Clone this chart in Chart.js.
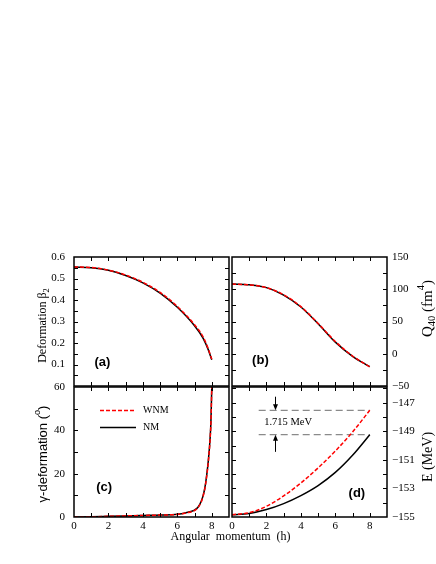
<!DOCTYPE html>
<html>
<head>
<meta charset="utf-8">
<script src="https://cdn.jsdelivr.net/npm/chart.js@4.4.1/dist/chart.umd.min.js"></script>
<style>
  html, body { margin: 0; padding: 0; background: #fff; }
  #wrap { position: relative; width: 436px; height: 564px; }
  #wrap canvas { position: absolute; left: 0; top: 0; }
</style>
</head>
<body>
<div id="wrap">
  <canvas id="panelA" width="436" height="564"></canvas>
  <canvas id="panelB" width="436" height="564"></canvas>
  <canvas id="panelC" width="436" height="564"></canvas>
  <canvas id="panelD" width="436" height="564"></canvas>
</div>
<script>
// angular momentum grid for each panel
const betaMomentum = [0, 1, 2, 3, 4, 5, 6, 7, 7.5, 7.8, 8];
const beta2WNM = [0.554, 0.551, 0.539, 0.516, 0.482, 0.435, 0.370, 0.285, 0.228, 0.172, 0.125];
const beta2NM = [0.553, 0.550, 0.538, 0.514, 0.480, 0.432, 0.366, 0.280, 0.222, 0.168, 0.122];

const q40Momentum = [0, 1, 2, 3, 4, 5, 6, 7, 8];
const q40WNM = [108, 106.8, 102.5, 91.5, 73, 47, 19, -3.5, -20.5];
const q40NM = [108, 106.8, 102.5, 91, 72.5, 46.5, 18, -4, -20];

const gammaMomentum = [0, 1, 2, 3, 4, 5, 6, 6.5, 7, 7.2, 7.4, 7.5, 7.6, 7.7, 7.8, 7.9, 7.95, 8];
const gammaWNM = [0, 0.1, 0.3, 0.5, 0.7, 0.9, 1.2, 1.9, 3.0, 4.3, 7.2, 9.7, 13.2, 18.5, 25.5, 35.5, 43.5, 60];
const gammaNM = [0, 0.1, 0.3, 0.5, 0.7, 0.9, 1.3, 2.0, 3.2, 4.5, 7.5, 10, 13.5, 19, 26, 36, 44, 60];

const energyMomentum = [0, 1, 2, 3, 4, 5, 6, 7, 8];
const energyWNM = [-154.84, -154.70, -154.25, -153.52, -152.62, -151.56, -150.38, -149.05, -147.53];
const energyNM = [-154.84, -154.75, -154.48, -154.06, -153.50, -152.80, -151.88, -150.68, -149.24];

// 1.715 MeV gap marker in panel (d)
const gapLevels = [-147.53, -149.24];
const gapMomentum = [1.55, 8];
const arrowMomentum = 2.5;
const arrowTails = [-146.58, -150.44];
const gapText = "1.715 MeV";
const gapTextAt = [1.87, -148.35];

const momentumTicks = [0, 2, 4, 6, 8];
const betaTicks = [0.1, 0.2, 0.3, 0.4, 0.5, 0.6];
const q40Ticks = [-50, 0, 50, 100, 150];
const gammaTicks = [0, 20, 40, 60];
const energyTicks = [-155, -153, -151, -149, -147];

const SERIF = '"Liberation Serif", "Times New Roman", serif';
const SANS = '"Liberation Sans", Arial, sans-serif';
const RED = "#ff0000";

const pts = (xs, ys) => xs.map((x, i) => ({ x: x, y: ys[i] }));
const minus = (v) => String(v).replace("-", "\u2212");

// text with sub/superscripts, centred on (cx, cy)
function richText(ctx, segs, cx, cy, size, family, rotate) {
  ctx.save();
  ctx.translate(cx, cy);
  if (rotate) ctx.rotate(-Math.PI / 2);
  ctx.fillStyle = "#000";
  ctx.textBaseline = "middle";
  ctx.textAlign = "left";
  let w = 0;
  segs.forEach((s) => {
    const sz = s.sub || s.sup ? size * 0.7 : size;
    ctx.font = sz + "px " + family;
    s.w = ctx.measureText(s.t).width;
    w += s.w;
  });
  let x = -w / 2;
  segs.forEach((s) => {
    const sz = s.sub || s.sup ? size * 0.7 : size;
    ctx.font = sz + "px " + family;
    const dy = s.sub ? size * 0.3 : s.sup ? -size * 0.45 : 0;
    ctx.fillText(s.t, x, dy);
    x += s.w;
  });
  ctx.restore();
}

// frame with inward ticks on all four sides, plus titles and panel letter
const framePlugin = {
  id: "frame",
  afterDraw(chart, args, opts) {
    const { ctx, chartArea: a, scales } = chart;
    const sx = scales.x;
    const sy = scales.y;
    ctx.save();
    ctx.strokeStyle = "#000";
    ctx.lineWidth = 1;
    ctx.beginPath();
    const nx = Math.round((sx.max - sx.min) / opts.xStep);
    for (let i = 1; i < nx; i++) {
      const px = Math.round(sx.getPixelForValue(sx.min + i * opts.xStep)) + 0.5;
      ctx.moveTo(px, a.bottom);
      ctx.lineTo(px, a.bottom - 4);
      ctx.moveTo(px, a.top);
      ctx.lineTo(px, a.top + 4);
    }
    for (let v = opts.yFrom; v <= sy.max + 1e-9; v += opts.yStep) {
      const py = Math.round(sy.getPixelForValue(v)) + 0.5;
      if (py < a.top + 1 || py > a.bottom - 1) continue;
      ctx.moveTo(a.left, py);
      ctx.lineTo(a.left + 4, py);
      ctx.moveTo(a.right, py);
      ctx.lineTo(a.right - 4, py);
    }
    ctx.stroke();
    ctx.lineWidth = 1.5;
    ctx.strokeRect(a.left, a.top, a.right - a.left, a.bottom - a.top);

    // panel letter
    ctx.fillStyle = "#000";
    ctx.font = "bold 13px " + SANS;
    ctx.textAlign = "center";
    ctx.textBaseline = "middle";
    ctx.fillText(opts.letter, sx.getPixelForValue(opts.letterAt[0]), sy.getPixelForValue(opts.letterAt[1]));

    // axis title
    const midY = (a.top + a.bottom) / 2 + (opts.titleShift || 0);
    const fam = opts.titleSans ? SANS : SERIF;
    if (opts.side === "left") richText(ctx, opts.title, a.left - 31, midY, opts.titleSize, fam, true);
    else richText(ctx, opts.title, a.right + 41, midY, opts.titleSize, fam, true);

    if (opts.xTitle) {
      ctx.font = "12px " + SERIF;
      ctx.textAlign = "center";
      ctx.fillText(opts.xTitle, a.right + 1.5, a.bottom + 20);
    }
    ctx.restore();
  },
};

// legend inside panel (c), styled from the datasets
const legendPlugin = {
  id: "innerLegend",
  afterDraw(chart, args, opts) {
    if (!opts.show) return;
    const { ctx, chartArea: a } = chart;
    ctx.save();
    chart.data.datasets.forEach((ds, i) => {
      const y = a.top + 23 + i * 17 + 0.5;
      ctx.strokeStyle = ds.borderColor;
      ctx.lineWidth = 1.5;
      ctx.setLineDash(ds.borderDash || []);
      ctx.beginPath();
      ctx.moveTo(a.left + 26, y);
      ctx.lineTo(a.left + 62, y);
      ctx.stroke();
      ctx.setLineDash([]);
      ctx.fillStyle = "#000";
      ctx.font = "10px " + SERIF;
      ctx.textAlign = "left";
      ctx.textBaseline = "middle";
      ctx.fillText(ds.label, a.left + 69, y);
    });
    ctx.restore();
  },
};

// arrows + gap label in panel (d)
const gapPlugin = {
  id: "gapMarker",
  afterDatasetsDraw(chart, args, opts) {
    if (!opts.show) return;
    const { ctx, scales } = chart;
    const px = Math.round(scales.x.getPixelForValue(arrowMomentum)) + 0.5;
    ctx.save();
    ctx.strokeStyle = "#000";
    ctx.fillStyle = "#000";
    ctx.lineWidth = 1;
    gapLevels.forEach((lvl, i) => {
      const tip = scales.y.getPixelForValue(lvl);
      const tail = scales.y.getPixelForValue(arrowTails[i]);
      const dir = tip > tail ? 1 : -1;
      ctx.beginPath();
      ctx.moveTo(px, tail);
      ctx.lineTo(px, tip - dir * 5);
      ctx.stroke();
      ctx.beginPath();
      ctx.moveTo(px, tip);
      ctx.lineTo(px - 2.5, tip - dir * 6);
      ctx.lineTo(px + 2.5, tip - dir * 6);
      ctx.closePath();
      ctx.fill();
    });
    ctx.font = "10.5px " + SERIF;
    ctx.textAlign = "left";
    ctx.textBaseline = "middle";
    ctx.fillText(gapText, scales.x.getPixelForValue(gapTextAt[0]), scales.y.getPixelForValue(gapTextAt[1]));
    ctx.restore();
  },
};

function makePanel(id, o) {
  const tickFont = { family: SERIF, size: 11 };
  return new Chart(document.getElementById(id), {
    type: "line",
    data: { datasets: o.datasets },
    options: {
      responsive: false,
      animation: false,
      events: [],
      layout: { padding: o.padding },
      elements: {
        point: { radius: 0 },
        line: { cubicInterpolationMode: "monotone", borderWidth: 1.5 },
      },
      scales: {
        x: {
          type: "linear",
          min: 0,
          max: 9,
          display: o.showX,
          afterBuildTicks: (s) => { s.ticks = momentumTicks.map((v) => ({ value: v })); },
          afterFit: (s) => { s.height = o.showX ? 20 : 0; },
          grid: { display: false, drawTicks: false },
          border: { display: false },
          ticks: { font: tickFont, color: "#000", padding: 3, maxRotation: 0, autoSkip: false },
        },
        y: {
          type: "linear",
          position: o.side,
          min: o.yMin,
          max: o.yMax,
          afterBuildTicks: (s) => { s.ticks = o.yTicks.map((v) => ({ value: v })); },
          afterFit: (s) => { s.width = o.axisWidth; },
          grid: { display: false, drawTicks: false },
          border: { display: false },
          ticks: {
            font: tickFont,
            color: "#000",
            padding: o.side === "left" ? 9 : 5,
            autoSkip: false,
            callback: o.fmt,
          },
        },
      },
      plugins: {
        legend: { display: false },
        tooltip: { enabled: false },
        frame: o.frame,
        innerLegend: { show: !!o.legend },
        gapMarker: { show: !!o.gap },
      },
    },
    plugins: [framePlugin, legendPlugin, gapPlugin],
  });
}

const wnmStyle = { borderColor: RED, borderDash: [4, 2], borderWidth: 1.5, fill: false };
const nmStyle = { borderColor: "#000", borderWidth: 1.5, fill: false };

makePanel("panelA", {
  padding: { left: 0, top: 257, right: 207, bottom: 178 },
  side: "left", axisWidth: 74, showX: false,
  yMin: 0, yMax: 0.6, yTicks: betaTicks, fmt: (v) => v.toFixed(1),
  datasets: [
    Object.assign({ label: "WNM", data: pts(betaMomentum, beta2WNM) }, wnmStyle),
    Object.assign({ label: "NM", data: pts(betaMomentum, beta2NM) }, nmStyle),
  ],
  frame: {
    xStep: 1, yFrom: 0, yStep: 0.05, side: "left", letter: "(a)", letterAt: [1.65, 0.11],
    title: [{ t: "Deformation \u03b2" }, { t: "2", sub: true }], titleSize: 12, titleShift: 4,
  },
});

makePanel("panelB", {
  padding: { left: 232, top: 257, right: 0, bottom: 178 },
  side: "right", axisWidth: 49, showX: false,
  yMin: -50, yMax: 150, yTicks: q40Ticks, fmt: minus,
  datasets: [
    Object.assign({ label: "WNM", data: pts(q40Momentum, q40WNM) }, wnmStyle),
    Object.assign({ label: "NM", data: pts(q40Momentum, q40NM) }, nmStyle),
  ],
  frame: {
    xStep: 1, yFrom: -50, yStep: 25, side: "right", letter: "(b)", letterAt: [1.65, -10],
    title: [{ t: "Q" }, { t: "40", sub: true }, { t: " (fm" }, { t: "4", sup: true }, { t: ")" }], titleSize: 15, titleShift: -13,
  },
});

makePanel("panelC", {
  padding: { left: 0, top: 387, right: 207, bottom: 27 },
  side: "left", axisWidth: 74, showX: true,
  yMin: 0, yMax: 60, yTicks: gammaTicks, fmt: (v) => String(v),
  legend: true,
  datasets: [
    Object.assign({ label: "WNM", data: pts(gammaMomentum, gammaWNM) }, wnmStyle),
    Object.assign({ label: "NM", data: pts(gammaMomentum, gammaNM) }, nmStyle),
  ],
  frame: {
    xStep: 1, yFrom: 0, yStep: 10, side: "left", letter: "(c)", letterAt: [1.75, 13.5],
    title: [{ t: "\u03b3-deformation (" }, { t: "o", sup: true }, { t: ")" }], titleSize: 13, titleSans: true, titleShift: 2,
    xTitle: "Angular  momentum  (h)",
  },
});

makePanel("panelD", {
  padding: { left: 232, top: 387, right: 0, bottom: 27 },
  side: "right", axisWidth: 49, showX: true,
  yMin: -155, yMax: -145.9, yTicks: energyTicks, fmt: minus,
  gap: true,
  datasets: [
    Object.assign({ label: "WNM", data: pts(energyMomentum, energyWNM) }, wnmStyle),
    Object.assign({ label: "NM", data: pts(energyMomentum, energyNM) }, nmStyle),
    { label: "gap-top", data: pts(gapMomentum, [gapLevels[0], gapLevels[0]]), borderColor: "#8a8a8a", borderWidth: 1.2, borderDash: [7, 4], tension: 0 },
    { label: "gap-bottom", data: pts(gapMomentum, [gapLevels[1], gapLevels[1]]), borderColor: "#8a8a8a", borderWidth: 1.2, borderDash: [7, 4], tension: 0 },
  ],
  frame: {
    xStep: 1, yFrom: -155, yStep: 1, side: "right", letter: "(d)", letterAt: [7.25, -153.35],
    title: [{ t: "E (MeV)" }], titleSize: 14, titleShift: 5,
  },
});
</script>
</body>
</html>
